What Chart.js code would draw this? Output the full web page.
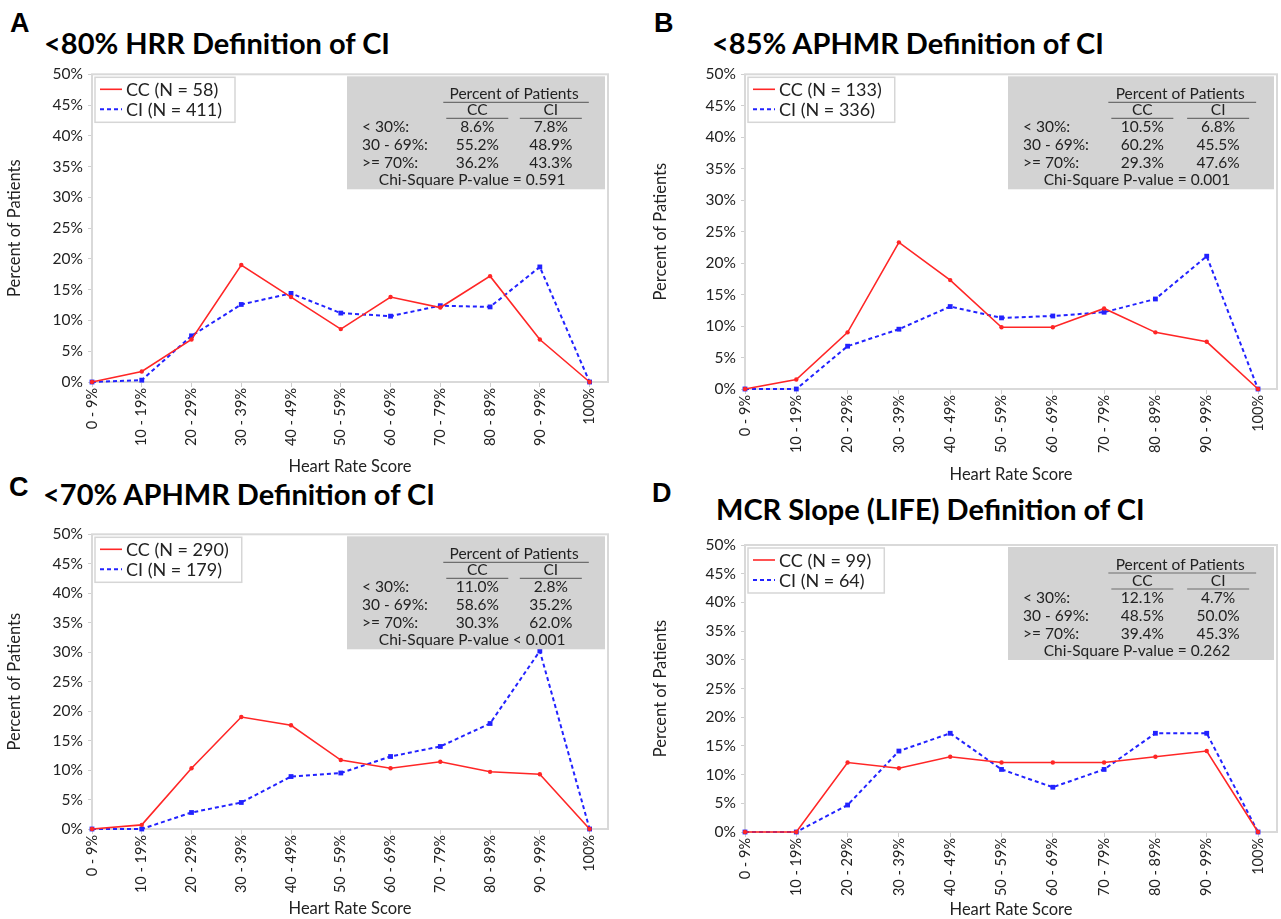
<!DOCTYPE html>
<html>
<head>
<meta charset="utf-8">
<title>Heart Rate Score by definition of CI</title>
<script src="https://cdn.jsdelivr.net/npm/chart.js@4.4.1/dist/chart.umd.min.js"></script>
<style>
    html, body { margin: 0; padding: 0; background: #fff; }
    #page { position: relative; width: 1281px; height: 919px; overflow: hidden; background: #fff; }
    .letter { position: absolute; font: bold 27px "Liberation Sans", Arial, sans-serif; line-height: 27px; color: #000; }
    .title { position: absolute; font: bold 29px Lato, sans-serif; line-height: 29px; color: #000; white-space: nowrap; }
    canvas { position: absolute; }
</style>
</head>
<body>
<div id="page">
    <div class="letter" style="left:10px;top:10px">A</div>
    <div class="title" style="left:44px;top:28px">&lt;80% HRR Definition of CI</div>
    <div class="letter" style="left:654px;top:10px">B</div>
    <div class="title" style="left:712px;top:28px">&lt;85% APHMR Definition of CI</div>
    <div class="letter" style="left:9px;top:474px">C</div>
    <div class="title" style="left:43px;top:479px">&lt;70% APHMR Definition of CI</div>
    <div class="letter" style="left:652px;top:480px">D</div>
    <div class="title" style="left:716px;top:494px">MCR Slope (LIFE) Definition of CI</div>

    <canvas id="chartA" width="640" height="420" style="left:0px;top:60px"></canvas>
    <canvas id="chartB" width="641" height="430" style="left:640px;top:60px"></canvas>
    <canvas id="chartC" width="640" height="399" style="left:0px;top:520px"></canvas>
    <canvas id="chartD" width="641" height="394" style="left:640px;top:525px"></canvas>
</div>

<script>
(function () {
    "use strict";

    // Data (percent of patients per heart rate score bin)
    var categories = ["0 - 9%", "10 - 19%", "20 - 29%", "30 - 39%", "40 - 49%", "50 - 59%",
                      "60 - 69%", "70 - 79%", "80 - 89%", "90 - 99%", "100%"];
    var yTicks = [0, 5, 10, 15, 20, 25, 30, 35, 40, 45, 50];

    var ccA = [0, 1.7, 6.9, 19.0, 13.8, 8.6, 13.8, 12.1, 17.2, 6.9, 0];
    var ciA = [0, 0.3, 7.5, 12.6, 14.4, 11.2, 10.7, 12.4, 12.2, 18.7, 0];
    var ccB = [0, 1.5, 9.0, 23.3, 17.3, 9.8, 9.8, 12.8, 9.0, 7.5, 0];
    var ciB = [0, 0, 6.8, 9.5, 13.1, 11.3, 11.6, 12.2, 14.3, 21.1, 0];
    var ccC = [0, 0.7, 10.3, 19.0, 17.6, 11.7, 10.3, 11.4, 9.7, 9.3, 0];
    var ciC = [0, 0, 2.8, 4.5, 8.9, 9.5, 12.3, 14.0, 17.9, 30.2, 0];
    var ccD = [0, 0, 12.1, 11.1, 13.1, 12.1, 12.1, 12.1, 13.1, 14.1, 0];
    var ciD = [0, 0, 4.7, 14.1, 17.2, 10.9, 7.8, 10.9, 17.2, 17.2, 0];

    // group sizes [CC, CI]
    var nA = [58, 411];
    var nB = [133, 336];
    var nC = [290, 179];
    var nD = [99, 64];

    // summary table: rows < 30%, 30 - 69%, >= 70%
    var statRows = ["< 30%:", "30 - 69%:", ">= 70%:"];
    var statCcA = [8.6, 55.2, 36.2], statCiA = [7.8, 48.9, 43.3];
    var statCcB = [10.5, 60.2, 29.3], statCiB = [6.8, 45.5, 47.6];
    var statCcC = [11.0, 58.6, 30.3], statCiC = [2.8, 35.2, 62.0];
    var statCcD = [12.1, 48.5, 39.4], statCiD = [4.7, 50.0, 45.3];
    var pValues = ["= 0.591", "= 0.001", "< 0.001", "= 0.262"];

    var textColor = "#222";
    var redLine = "#ff2626";
    var blueLine = "#2222ff";

    // Frame, legend box and summary table drawn inside the plot area
    var panelDecor = {
        id: "panelDecor",
        beforeDatasetsDraw: function (chart) {
            var a = chart.chartArea, ctx = chart.ctx;
            ctx.save();
            ctx.strokeStyle = "#d9d9d9";
            ctx.lineWidth = 2;
            ctx.strokeRect(a.left, a.top, a.right - a.left, a.bottom - a.top);
            ctx.restore();
        },
        afterDatasetsDraw: function (chart, args, opts) {
            var a = chart.chartArea, ctx = chart.ctx;
            ctx.save();

            // legend
            ctx.font = "18px Lato";
            var labels = chart.data.datasets.map(function (d) { return d.label; });
            var tw = Math.max.apply(null, labels.map(function (l) { return ctx.measureText(l).width; }));
            var lx = a.left + 3, ly = a.top + 3, lw = 32 + tw + 12, lh = 45;
            ctx.fillStyle = "#fff";
            ctx.fillRect(lx, ly, lw, lh);
            ctx.strokeStyle = "#d6d6d6";
            ctx.lineWidth = 1.5;
            ctx.strokeRect(lx, ly, lw, lh);
            chart.data.datasets.forEach(function (d, i) {
                var yy = ly + 12 + i * 20;
                ctx.strokeStyle = d.borderColor;
                ctx.lineWidth = d.borderWidth;
                ctx.setLineDash(d.borderDash || []);
                ctx.beginPath();
                ctx.moveTo(lx + 5, yy);
                ctx.lineTo(lx + 27, yy);
                ctx.stroke();
                ctx.setLineDash([]);
                ctx.fillStyle = textColor;
                ctx.textBaseline = "middle";
                ctx.textAlign = "left";
                ctx.fillText(d.label, lx + 31, yy + 1);
            });

            // summary table
            var bw = (a.right - a.left) * 0.5, bh = 113;
            var bx = a.right - 3 - bw, by = a.top + 2;
            ctx.fillStyle = "#d3d3d3";
            ctx.fillRect(bx, by, bw, bh);
            var c1 = bx + bw * 0.505, c2 = bx + bw * 0.79;
            ctx.font = "15.5px Lato";
            ctx.fillStyle = textColor;
            ctx.textBaseline = "alphabetic";
            ctx.textAlign = "center";
            ctx.fillText("Percent of Patients", (c1 + c2) / 2, by + 23);
            ctx.fillText("CC", c1, by + 39);
            ctx.fillText("CI", c2, by + 39);
            ctx.strokeStyle = "#6e6e6e";
            ctx.lineWidth = 1.2;
            ctx.beginPath();
            ctx.moveTo(c1 - 34, by + 26); ctx.lineTo(c2 + 38, by + 26);
            ctx.moveTo(c1 - 31, by + 42); ctx.lineTo(c1 + 31, by + 42);
            ctx.moveTo(c2 - 31, by + 42); ctx.lineTo(c2 + 31, by + 42);
            ctx.stroke();
            statRows.forEach(function (r, i) {
                var yy = by + 56 + i * 18;
                ctx.textAlign = "left";
                ctx.fillText(r, bx + 15, yy);
                ctx.textAlign = "center";
                ctx.fillText(opts.cc[i].toFixed(1) + "%", c1, yy);
                ctx.fillText(opts.ci[i].toFixed(1) + "%", c2, yy);
            });
            ctx.fillText("Chi-Square P-value " + opts.p, bx + bw * 0.485, by + 109);
            ctx.restore();
        }
    };

    function makeChart(id, g, cc, ci, n, statCc, statCi, p) {
        var xTickFont = { family: "Lato", size: 14.5 };
        var yTickFont = { family: "Lato", size: 15.5 };
        var titleFont = { family: "Lato", size: 16.5 };
        var xh = g.xTitle + 10 - g.b;
        return new Chart(document.getElementById(id).getContext("2d"), {
            type: "line",
            data: {
                datasets: [{
                    label: "CC (N = " + n[0] + ")",
                    data: cc.map(function (v, i) { return { x: i, y: v }; }),
                    borderColor: redLine,
                    backgroundColor: redLine,
                    borderWidth: 1.6,
                    pointStyle: "circle",
                    pointRadius: 2.2,
                    pointBorderWidth: 0,
                    tension: 0
                }, {
                    label: "CI (N = " + n[1] + ")",
                    data: ci.map(function (v, i) { return { x: i, y: v }; }),
                    borderColor: blueLine,
                    backgroundColor: blueLine,
                    borderWidth: 2,
                    borderDash: [4, 3],
                    pointStyle: "rect",
                    pointRadius: 3.4,
                    pointBorderWidth: 0,
                    tension: 0
                }]
            },
            options: {
                responsive: false,
                animation: false,
                clip: false,
                layout: {
                    padding: {
                        left: 0,
                        top: g.t - g.top,
                        right: g.left + g.w - g.r,
                        bottom: g.top + g.h - (g.b + xh)
                    }
                },
                plugins: {
                    legend: { display: false },
                    tooltip: { enabled: false },
                    panelDecor: { cc: statCc, ci: statCi, p: p }
                },
                scales: {
                    x: {
                        type: "linear",
                        min: 0,
                        max: 10.37,
                        afterBuildTicks: function (axis) {
                            axis.ticks = categories.map(function (c, i) { return { value: i }; });
                        },
                        afterFit: function (axis) { axis.height = xh; },
                        ticks: {
                            autoSkip: false,
                            minRotation: 90,
                            maxRotation: 90,
                            padding: 1,
                            font: xTickFont,
                            color: textColor,
                            callback: function (v) { return categories[v]; }
                        },
                        grid: { drawOnChartArea: false, tickLength: 5, color: "#cfcfcf" },
                        border: { display: false },
                        title: { display: true, text: "Heart Rate Score", font: titleFont, color: textColor, padding: 0 }
                    },
                    y: {
                        min: 0,
                        max: 50,
                        afterBuildTicks: function (axis) {
                            axis.ticks = yTicks.map(function (v) { return { value: v }; });
                        },
                        afterFit: function (axis) { axis.width = g.l - g.left; },
                        ticks: {
                            padding: 5,
                            font: yTickFont,
                            color: textColor,
                            callback: function (v) { return v + "%"; }
                        },
                        grid: { drawOnChartArea: false, tickLength: 4, color: "#cfcfcf" },
                        border: { display: false },
                        title: {
                            display: true, text: "Percent of Patients", font: titleFont, color: textColor,
                            padding: { top: g.yTitle - g.left - 10, bottom: 0 }
                        }
                    }
                }
            },
            plugins: [panelDecor]
        });
    }

    // panel geometry in page pixels: canvas box, plot area, axis title centres
    var geoA = { left: 0, top: 60, w: 640, h: 420, l: 92, r: 608, t: 72, b: 382, yTitle: 15, xTitle: 467 };
    var geoB = { left: 640, top: 60, w: 641, h: 430, l: 745, r: 1277, t: 70, b: 389, yTitle: 661, xTitle: 475 };
    var geoC = { left: 0, top: 520, w: 640, h: 399, l: 92, r: 608, t: 532, b: 829, yTitle: 15, xTitle: 909 };
    var geoD = { left: 640, top: 525, w: 641, h: 394, l: 745, r: 1277, t: 545, b: 832, yTitle: 661, xTitle: 910 };

    makeChart("chartA", geoA, ccA, ciA, nA, statCcA, statCiA, pValues[0]);
    makeChart("chartB", geoB, ccB, ciB, nB, statCcB, statCiB, pValues[1]);
    makeChart("chartC", geoC, ccC, ciC, nC, statCcC, statCiC, pValues[2]);
    makeChart("chartD", geoD, ccD, ciD, nD, statCcD, statCiD, pValues[3]);
})();
</script>
</body>
</html>
